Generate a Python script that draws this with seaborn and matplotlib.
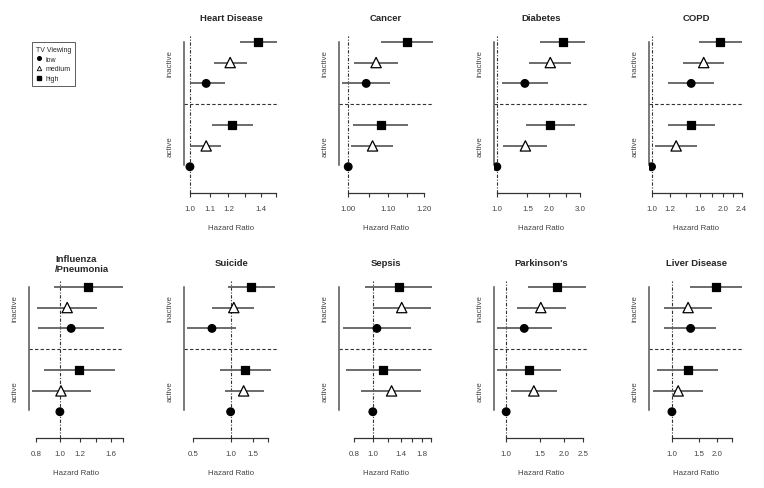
import numpy as np
import pandas as pd
import matplotlib
matplotlib.use("Agg")
import matplotlib.pyplot as plt
from matplotlib.lines import Line2D
from matplotlib.ticker import FixedLocator, NullLocator
import seaborn as sns

sns.set_style("ticks")
plt.rcParams['font.family'] = ['Liberation Sans', 'DejaVu Sans']

# rows of every panel: reference (active, low) first, then the others
row_activity = ['active', 'active', 'active', 'inactive', 'inactive', 'inactive']
row_tv = ['low', 'medium', 'high', 'low', 'medium', 'high']

# hazard ratios and 95% CI
heart_hr = [1.00, 1.08, 1.22, 1.08, 1.21, 1.38]
heart_lo = [1.00, 1.00, 1.11, 1.00, 1.12, 1.27]
heart_hi = [1.00, 1.16, 1.35, 1.18, 1.31, 1.51]

cancer_hr = [1.000, 1.060, 1.081, 1.044, 1.069, 1.150]
cancer_lo = [1.000, 1.007, 1.012, 0.986, 1.015, 1.081]
cancer_hi = [1.000, 1.114, 1.154, 1.105, 1.126, 1.224]

diabetes_hr = [1.00, 1.46, 2.03, 1.45, 2.03, 2.39]
diabetes_lo = [1.00, 1.09, 1.48, 1.07, 1.54, 1.77]
diabetes_hi = [1.00, 1.95, 2.80, 1.98, 2.68, 3.23]

copd_hr = [1.00, 1.27, 1.47, 1.47, 1.66, 1.94]
copd_lo = [1.00, 1.03, 1.17, 1.17, 1.36, 1.59]
copd_hi = [1.00, 1.55, 1.85, 1.83, 2.02, 2.40]

flu_hr = [1.00, 1.01, 1.19, 1.11, 1.07, 1.30]
flu_lo = [1.00, 0.77, 0.86, 0.82, 0.81, 0.945]
flu_hi = [1.00, 1.33, 1.67, 1.50, 1.41, 1.79]

suicide_hr = [1.00, 1.27, 1.31, 0.71, 1.06, 1.46]
suicide_lo = [1.00, 0.90, 0.82, 0.45, 0.71, 0.95]
suicide_hi = [1.00, 1.83, 2.09, 1.11, 1.54, 2.26]

sepsis_hr = [1.00, 1.25, 1.13, 1.05, 1.41, 1.36]
sepsis_lo = [1.00, 0.87, 0.73, 0.70, 1.00, 0.91]
sepsis_hi = [1.00, 1.77, 1.77, 1.57, 1.99, 2.03]

parkinson_hr = [1.00, 1.39, 1.31, 1.24, 1.51, 1.84]
parkinson_lo = [1.00, 1.06, 0.90, 0.90, 1.14, 1.30]
parkinson_hi = [1.00, 1.84, 1.91, 1.72, 2.04, 2.60]

liver_hr = [1.00, 1.10, 1.27, 1.33, 1.28, 1.95]
liver_lo = [1.00, 0.75, 0.80, 0.89, 0.88, 1.32]
liver_hi = [1.00, 1.60, 2.03, 1.95, 1.84, 2.89]

# x axis ticks per panel
heart_ticks = [1.0, 1.1, 1.2, 1.3, 1.4, 1.5]
heart_labels = ['1.0', '1.1', '1.2', '', '1.4', '']
cancer_ticks = [1.00, 1.05, 1.10, 1.15, 1.20]
cancer_labels = ['1.00', '', '1.10', '', '1.20']
diabetes_ticks = [1.0, 1.5, 2.0, 2.5, 3.0]
diabetes_labels = ['1.0', '1.5', '2.0', '', '3.0']
copd_ticks = [1.0, 1.2, 1.4, 1.6, 1.8, 2.0, 2.2, 2.4]
copd_labels = ['1.0', '1.2', '', '1.6', '', '2.0', '', '2.4']
flu_ticks = [0.8, 1.0, 1.2, 1.4, 1.6, 1.8]
flu_labels = ['0.8', '1.0', '1.2', '', '1.6', '']
suicide_ticks = [0.5, 1.0, 1.5, 2.0]
suicide_labels = ['0.5', '1.0', '1.5', '']
sepsis_ticks = [0.8, 1.0, 1.2, 1.4, 1.6, 1.8, 2.0]
sepsis_labels = ['0.8', '1.0', '', '1.4', '', '1.8', '']
parkinson_ticks = [1.0, 1.5, 2.0, 2.5]
parkinson_labels = ['1.0', '1.5', '2.0', '2.5']
liver_ticks = [1.0, 1.5, 2.0, 2.5]
liver_labels = ['1.0', '1.5', '2.0', '']

panels = [
    # title, hr, lo, hi, ticks, labels, xlim, row, col
    ('Heart Disease', heart_hr, heart_lo, heart_hi, heart_ticks, heart_labels, (0.970, 1.525), 0, 1),
    ('Cancer', cancer_hr, cancer_lo, cancer_hi, cancer_ticks, cancer_labels, (0.977, 1.228), 0, 2),
    ('Diabetes', diabetes_hr, diabetes_lo, diabetes_hi, diabetes_ticks, diabetes_labels, (0.957, 3.39), 0, 3),
    ('COPD', copd_hr, copd_lo, copd_hi, copd_ticks, copd_labels, (0.971, 2.455), 0, 4),
    ('Influenza\n/Pneumonia', flu_hr, flu_lo, flu_hi, flu_ticks, flu_labels, (0.748, 1.81), 1, 0),
    ('Suicide', suicide_hr, suicide_lo, suicide_hi, suicide_ticks, suicide_labels, (0.421, 2.43), 1, 1),
    ('Sepsis', sepsis_hr, sepsis_lo, sepsis_hi, sepsis_ticks, sepsis_labels, (0.665, 2.07), 1, 2),
    ("Parkinson's", parkinson_hr, parkinson_lo, parkinson_hi, parkinson_ticks, parkinson_labels, (0.86, 2.68), 1, 3),
    ('Liver Disease', liver_hr, liver_lo, liver_hi, liver_ticks, liver_labels, (0.70, 3.0), 1, 4),
]

W, H = 764, 489
fig = plt.figure(figsize=(W / 100, H / 100), dpi=100)
col_left = [28.5 + 155 * i for i in range(5)]
row_top = [36.9, 281.9]
ax_w, ax_h = 95.5, 157.5

palette = {'low': 'black', 'medium': 'white', 'high': 'black'}
markers = {'low': 'o', 'medium': '^', 'high': 's'}
sizes = {'low': 30, 'medium': 55, 'high': 32}
axis_col = '#333333'
text_col = '#444444'

for title, hr, lo, hi, ticks, labels, xlim, r, c in panels:
    ax = fig.add_axes([col_left[c] / W, 1 - (row_top[r] + ax_h) / H, ax_w / W, ax_h / H])
    df = pd.DataFrame({'hr': hr, 'lo': lo, 'hi': hi, 'tv': row_tv, 'activity': row_activity})
    idx = np.arange(len(df))
    df['y'] = idx + (idx >= 3)
    ax.set_xscale('log')

    # confidence intervals, then the point estimates on top
    ax.hlines(df['y'], df['lo'], df['hi'], color='#606060', lw=1.3, zorder=2)
    sns.scatterplot(data=df, x='hr', y='y', hue='tv', style='tv', size='tv',
                    palette=palette, markers=markers, sizes=sizes,
                    edgecolor='black', linewidth=0.9, legend=False, ax=ax, zorder=3)
    ax.axvline(1.0, color=axis_col, lw=0.8, ls=(0, (3, 1.5, 1, 1.5)), zorder=1)
    ax.axhline(3, color=axis_col, lw=0.8, ls=(0, (3, 2)), zorder=1)

    ax.set_xlim(xlim)
    ax.set_ylim(-1.28, 6.28)
    ax.xaxis.set_major_locator(FixedLocator(ticks))
    ax.xaxis.set_minor_locator(NullLocator())
    ax.set_xticklabels(labels)
    ax.set_yticks([1, 5])
    ax.set_yticklabels(['active', 'inactive'], rotation=90, va='center')
    ax.tick_params(axis='y', length=0, pad=7, labelsize=5.7, labelcolor=text_col)
    ax.tick_params(axis='x', length=3, width=0.8, pad=5, labelsize=5.7,
                   color=axis_col, labelcolor=text_col)

    sns.despine(ax=ax)
    ax.spines['left'].set_color('#555555')
    ax.spines['left'].set_linewidth(1.1)
    ax.spines['bottom'].set_color(axis_col)
    ax.spines['bottom'].set_linewidth(0.9)
    ax.spines['left'].set_bounds(0.1, 6)
    ax.spines['bottom'].set_bounds(ticks[0], ticks[-1])

    ax.set_xlabel('Hazard Ratio', fontsize=5.7, color=text_col, labelpad=9)
    ax.set_ylabel('')
    if '\n' in title:
        ax.set_title(title, fontsize=6.8, fontweight='bold', pad=7.3,
                     x=0.565, multialignment='left', linespacing=1.15)
    else:
        ax.set_title(title, fontsize=6.8, fontweight='bold', pad=11.5)

# legend in the empty top-left slot
handles = [
    Line2D([], [], ls='none', marker='o', ms=2.6, mfc='black', mec='black'),
    Line2D([], [], ls='none', marker='^', ms=3.2, mfc='white', mec='black', mew=0.6),
    Line2D([], [], ls='none', marker='s', ms=2.4, mfc='black', mec='black'),
]
leg = fig.legend(handles, ['low', 'medium', 'high'], title='TV Viewing',
                 loc='upper left', bbox_to_anchor=(32.3 / W, 1 - 43.3 / H),
                 fontsize=5, title_fontsize=5, frameon=True, fancybox=False,
                 edgecolor=axis_col, alignment='left', handlelength=0.8,
                 handletextpad=0.6, borderpad=0.5, labelspacing=0.4,
                 borderaxespad=0)
leg.get_frame().set_linewidth(0.7)

fig.savefig('out.png', dpi=100)
